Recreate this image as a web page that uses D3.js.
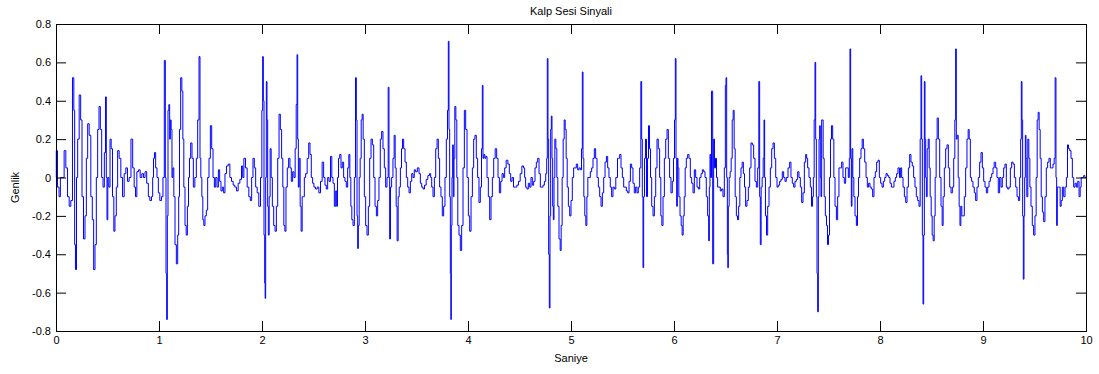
<!DOCTYPE html>
<html>
<head>
<meta charset="utf-8">
<script src="https://cdn.jsdelivr.net/npm/d3@7"></script>
<style>
  body { margin: 0; background: #fff; }
  svg { display: block; }
  text { font-family: Arial, "Liberation Sans", sans-serif; font-size: 11px; fill: #000; }
</style>
</head>
<body>
<div id="chart"></div>
<script>
/* Kalp sesi - [saniye, genlik] pairs */
var seg1 = [[0,0],[0.006,0.14],[0.023,-0.05],[0.036,-0.1],[0.049,0],[0.071,0],[0.087,0.14],[0.104,0.05],[0.120,-0.1],[0.136,-0.15],[0.152,-0.12],[0.168,0.52],[0.178,0.35],[0.184,-0.35],[0.194,-0.48],[0.204,0],[0.217,0.2],[0.233,0.43],[0.246,0.3],[0.259,-0.1],[0.275,-0.32],[0.288,-0.2],[0.301,0.1],[0.314,0.28],[0.330,0.22],[0.346,-0.1],[0.359,-0.22],[0.372,-0.48],[0.385,-0.35],[0.398,0],[0.411,0.25],[0.424,0.37],[0.437,0.25],[0.450,0],[0.463,-0.05],[0.476,0.13],[0.485,0.42],[0.492,0],[0.498,-0.22],[0.508,0],[0.518,-0.05],[0.531,0.2],[0.540,0.15],[0.557,-0.1],[0.566,-0.28],[0.579,-0.2],[0.592,-0.05],[0.605,0.14],[0.621,0.1],[0.638,0],[0.654,-0.1],[0.670,0.02],[0.686,0.05],[0.702,-0.02],[0.718,0],[0.738,0.2],[0.751,0.05],[0.767,-0.05],[0.777,-0.1],[0.793,0.03],[0.809,0.04],[0.825,0],[0.841,0.02],[0.858,0],[0.871,0.03],[0.890,-0.03]];
var seg2 = [[0.903,-0.1],[0.919,-0.12],[0.935,-0.1],[0.942,0],[0.951,0.1],[0.961,0.13],[0.974,0.05],[0.987,0],[1.000,-0.08],[1.016,-0.12],[1.032,-0.1],[1.045,0],[1.058,0.61],[1.065,0],[1.071,-0.5],[1.078,-0.74],[1.084,-0.2],[1.091,0.35],[1.100,0.38],[1.107,0.2],[1.113,0.3],[1.123,0.25],[1.129,0],[1.139,0.05],[1.149,-0.1],[1.162,-0.35],[1.175,-0.45],[1.188,-0.3],[1.194,-0.1],[1.204,0.25],[1.217,0.52],[1.227,0.45],[1.236,0.2],[1.246,-0.05],[1.259,-0.25],[1.269,-0.3],[1.282,-0.15],[1.291,0],[1.301,0.1],[1.314,0.18],[1.327,0.1],[1.340,-0.05],[1.356,0],[1.369,0.1],[1.382,0.3],[1.395,0.63],[1.401,0.1],[1.411,0],[1.421,-0.1],[1.430,-0.22],[1.440,-0.25],[1.453,-0.2],[1.466,-0.17],[1.479,0],[1.492,0.1],[1.505,0.27],[1.518,0.15],[1.531,0],[1.544,-0.05],[1.557,0],[1.570,-0.05],[1.583,0.04],[1.595,-0.02],[1.608,-0.07],[1.621,-0.05],[1.634,-0.08],[1.647,0.02],[1.663,0.06],[1.680,0.07],[1.696,0],[1.712,-0.02],[1.728,-0.04],[1.744,-0.05],[1.760,-0.07],[1.777,-0.03],[1.793,-0.01],[1.809,0.06]];
var seg3 = [[1.816,0],[1.832,0.1],[1.848,0.05],[1.864,-0.05],[1.880,-0.1],[1.893,-0.12],[1.906,0],[1.919,0.1],[1.932,0.05],[1.945,-0.05],[1.961,-0.08],[1.977,-0.15],[1.994,0],[2.003,0.35],[2.010,0.63],[2.016,0.4],[2.023,-0.3],[2.029,-0.55],[2.032,-0.63],[2.039,0],[2.045,0.5],[2.052,0.3],[2.058,-0.15],[2.065,-0.3],[2.074,-0.1],[2.084,0.15],[2.094,0],[2.107,-0.15],[2.120,-0.25],[2.133,-0.28],[2.146,-0.15],[2.159,0.1],[2.172,0.33],[2.184,0.25],[2.197,0.1],[2.207,-0.05],[2.217,-0.25],[2.227,-0.28],[2.239,-0.05],[2.252,0.05],[2.265,0.1],[2.278,0.05],[2.291,-0.02],[2.304,0.03],[2.317,0],[2.327,0.15],[2.337,0.38],[2.343,0.64],[2.350,0.2],[2.356,-0.05],[2.366,0.1],[2.375,-0.15],[2.385,-0.28],[2.395,-0.1],[2.405,-0.1],[2.417,0],[2.430,0.02],[2.447,0.1],[2.460,0.18],[2.472,0.12],[2.485,0],[2.498,-0.03],[2.511,-0.05],[2.528,-0.06],[2.544,-0.05],[2.560,-0.08],[2.576,-0.02],[2.592,0.08],[2.605,0],[2.618,-0.04],[2.631,-0.06],[2.644,0],[2.657,-0.02],[2.673,0.11],[2.683,0],[2.696,-0.03],[2.709,-0.15],[2.722,-0.07]];
var seg4 = [[2.728,-0.15],[2.738,0],[2.748,0.1],[2.761,0.12],[2.773,0.05],[2.786,0.08],[2.799,0],[2.812,-0.02],[2.825,-0.05],[2.838,0.05],[2.848,0.12],[2.858,0],[2.867,-0.15],[2.877,-0.22],[2.890,-0.25],[2.903,0],[2.913,0.52],[2.919,0.3],[2.926,-0.2],[2.932,-0.37],[2.939,-0.25],[2.948,0],[2.958,0.1],[2.968,0.3],[2.977,0.33],[2.987,0.2],[3.000,-0.1],[3.013,-0.25],[3.026,-0.3],[3.039,-0.15],[3.052,0.1],[3.065,0.2],[3.078,0.17],[3.091,0],[3.104,-0.15],[3.117,-0.2],[3.129,-0.12],[3.142,0],[3.155,0.2],[3.168,0.24],[3.181,0.15],[3.194,0.05],[3.207,-0.05],[3.220,0],[3.230,0.47],[3.236,0],[3.243,-0.32],[3.252,-0.05],[3.265,0],[3.278,0.1],[3.288,0.22],[3.298,0.05],[3.307,-0.15],[3.317,-0.33],[3.327,-0.1],[3.337,-0.05],[3.350,0.05],[3.359,0.15],[3.369,0.2],[3.382,0.15],[3.395,0.08],[3.408,0],[3.421,-0.05],[3.434,-0.08],[3.447,-0.02],[3.460,0.02],[3.472,0],[3.485,0.04],[3.498,0.03],[3.518,0.05],[3.531,0.02],[3.544,-0.03],[3.557,-0.05],[3.570,-0.06],[3.586,-0.04],[3.602,-0.01],[3.618,0.01],[3.634,0.02]];
var seg5 = [[3.641,0],[3.654,-0.05],[3.667,-0.1],[3.680,0],[3.693,0.15],[3.706,0.2],[3.718,0.1],[3.731,-0.05],[3.744,-0.1],[3.757,-0.2],[3.770,-0.15],[3.783,0],[3.796,0.2],[3.806,0.35],[3.812,0.71],[3.819,0.25],[3.825,-0.1],[3.832,-0.5],[3.835,-0.74],[3.841,-0.25],[3.848,0],[3.854,0.17],[3.861,-0.1],[3.867,0.1],[3.877,0.37],[3.887,0.3],[3.896,0],[3.906,-0.25],[3.919,-0.3],[3.932,-0.38],[3.945,-0.25],[3.958,0.05],[3.971,0.35],[3.984,0.25],[3.997,0],[4.010,-0.2],[4.023,-0.28],[4.036,-0.1],[4.049,0.05],[4.061,0.2],[4.074,0.22],[4.087,0.1],[4.100,0],[4.113,-0.13],[4.126,-0.05],[4.136,0.15],[4.142,0.48],[4.149,0.1],[4.159,0.12],[4.168,0.1],[4.178,0.11],[4.191,0],[4.204,-0.1],[4.217,-0.22],[4.230,-0.1],[4.243,0],[4.256,0.1],[4.272,0.15],[4.285,0.1],[4.298,0],[4.311,-0.08],[4.324,-0.02],[4.337,0.02],[4.350,0],[4.362,0.05],[4.379,0.09],[4.395,0.07],[4.408,0.02],[4.421,-0.02],[4.434,0],[4.450,-0.05],[4.466,-0.05],[4.482,-0.04],[4.498,-0.02],[4.515,0.02],[4.531,0.06],[4.547,0.05]];
var seg6 = [[4.553,0],[4.566,-0.05],[4.579,-0.06],[4.592,-0.03],[4.605,-0.05],[4.618,0],[4.631,-0.04],[4.644,-0.02],[4.657,0.05],[4.670,0.08],[4.683,0.1],[4.696,0.02],[4.709,-0.05],[4.722,-0.05],[4.735,-0.04],[4.748,-0.02],[4.761,0.02],[4.767,0.1],[4.773,0.62],[4.780,0.2],[4.786,-0.4],[4.793,-0.68],[4.799,-0.2],[4.806,0.25],[4.812,0.32],[4.819,0.1],[4.825,-0.15],[4.832,-0.22],[4.838,0],[4.848,0.2],[4.858,0.15],[4.867,0],[4.877,-0.15],[4.890,-0.32],[4.900,-0.38],[4.909,-0.25],[4.919,0],[4.929,0.2],[4.939,0.3],[4.948,0.25],[4.958,0.1],[4.968,-0.05],[4.981,-0.15],[4.994,-0.2],[5.006,-0.12],[5.019,0],[5.032,0.05],[5.045,0.05],[5.058,0.07],[5.071,0.04],[5.084,0.05],[5.097,0.04],[5.107,0.15],[5.113,0.55],[5.120,0.1],[5.129,-0.1],[5.139,-0.2],[5.149,-0.25],[5.159,-0.1],[5.168,0],[5.181,0],[5.194,0.03],[5.207,0.05],[5.220,0.1],[5.233,0.15],[5.246,0.1],[5.259,0],[5.272,-0.05],[5.285,-0.1],[5.298,-0.15],[5.311,-0.08],[5.324,0],[5.337,0.08],[5.350,0.11],[5.362,0.05],[5.375,0],[5.388,-0.05],[5.401,-0.1],[5.414,-0.05],[5.427,-0.06],[5.443,0],[5.460,0.1]];
var seg7 = [[5.466,0.1],[5.479,0.12],[5.492,0.05],[5.505,0],[5.518,-0.05],[5.531,-0.05],[5.544,-0.07],[5.557,-0.08],[5.570,-0.02],[5.583,0.07],[5.595,0.05],[5.608,-0.03],[5.621,-0.08],[5.634,-0.05],[5.647,-0.08],[5.660,-0.05],[5.673,0.05],[5.683,0.5],[5.689,0.2],[5.696,-0.1],[5.702,-0.47],[5.709,-0.1],[5.718,0.1],[5.728,0.2],[5.738,-0.1],[5.748,0.1],[5.757,0.27],[5.767,0.15],[5.777,0],[5.790,-0.15],[5.803,-0.2],[5.816,-0.1],[5.829,0.05],[5.841,0.2],[5.854,0.15],[5.867,0],[5.877,-0.2],[5.887,-0.25],[5.900,-0.1],[5.913,0.1],[5.926,0.2],[5.939,0.25],[5.951,0.1],[5.964,0],[5.977,-0.08],[5.990,-0.02],[6.000,0.1],[6.010,0.3],[6.016,0.62],[6.023,0.1],[6.029,-0.15],[6.036,0.1],[6.042,0.05],[6.052,-0.1],[6.065,-0.2],[6.074,-0.25],[6.084,-0.3],[6.094,-0.2],[6.104,-0.1],[6.113,0.05],[6.126,0.1],[6.139,0.12],[6.152,0.1],[6.165,0],[6.178,-0.03],[6.191,-0.08],[6.204,0.04],[6.217,0],[6.230,-0.05],[6.243,-0.06],[6.256,0],[6.269,0.02],[6.282,0.04],[6.295,0.03],[6.307,0],[6.320,-0.1],[6.333,-0.2],[6.340,-0.33],[6.346,-0.05],[6.353,0.12],[6.359,0],[6.369,0.45]];
var seg8 = [[6.382,-0.45],[6.388,0.2],[6.398,0.05],[6.408,0.1],[6.417,0],[6.430,-0.05],[6.443,-0.05],[6.456,-0.07],[6.469,-0.06],[6.482,-0.1],[6.495,0.05],[6.502,0.48],[6.508,0.52],[6.515,0],[6.521,-0.4],[6.524,-0.47],[6.531,-0.15],[6.540,0],[6.550,0.03],[6.560,0.1],[6.570,0.3],[6.579,0.35],[6.589,0.15],[6.599,-0.1],[6.612,-0.2],[6.621,-0.22],[6.634,-0.15],[6.644,0],[6.657,0.05],[6.667,0.08],[6.680,0.02],[6.689,-0.05],[6.702,-0.15],[6.715,-0.12],[6.728,-0.05],[6.741,0.05],[6.754,0.18],[6.767,0.17],[6.780,0.1],[6.793,-0.02],[6.806,-0.05],[6.819,0.05],[6.828,0.5],[6.835,-0.1],[6.841,-0.35],[6.851,-0.05],[6.861,0],[6.871,0.1],[6.877,0.3],[6.883,0],[6.893,-0.2],[6.903,-0.3],[6.916,-0.15],[6.929,-0.05],[6.942,0.05],[6.955,0.15],[6.968,0.18],[6.981,0.1],[6.994,0],[7.006,-0.05],[7.019,-0.04],[7.032,-0.02],[7.045,-0.01],[7.058,0.03],[7.071,0],[7.084,-0.02],[7.097,0],[7.117,0.05],[7.129,0.08],[7.142,0],[7.155,-0.03],[7.168,-0.05],[7.181,-0.02],[7.194,-0.01],[7.207,0.03],[7.220,0],[7.233,-0.05],[7.246,-0.13],[7.259,-0.08],[7.272,0.08],[7.285,0.12]];
var seg9 = [[7.291,0.1],[7.304,0.05],[7.317,0],[7.330,-0.05],[7.340,-0.15],[7.350,-0.1],[7.356,0],[7.366,0.3],[7.372,0.6],[7.379,0.2],[7.385,-0.1],[7.392,-0.5],[7.398,-0.7],[7.405,-0.1],[7.411,0.2],[7.417,0.27],[7.424,0],[7.430,-0.1],[7.437,0.3],[7.443,0.3],[7.453,0.1],[7.463,-0.1],[7.476,-0.2],[7.485,-0.25],[7.495,-0.35],[7.505,-0.3],[7.515,0],[7.524,0.2],[7.534,0.27],[7.547,0.2],[7.557,0],[7.570,-0.15],[7.583,-0.22],[7.595,-0.1],[7.608,0.05],[7.621,0.05],[7.634,0.08],[7.647,0],[7.660,-0.03],[7.673,0.05],[7.686,0.05],[7.699,0],[7.705,0.1],[7.712,0.67],[7.718,0.1],[7.725,-0.15],[7.731,0.15],[7.741,0],[7.751,-0.1],[7.764,-0.2],[7.777,-0.25],[7.786,-0.1],[7.796,0],[7.809,0.1],[7.822,0.15],[7.832,0.2],[7.845,0.15],[7.858,0.08],[7.871,0],[7.883,-0.05],[7.896,-0.03],[7.909,-0.05],[7.922,-0.06],[7.935,-0.1],[7.948,0],[7.961,0.03],[7.974,0.08],[7.987,0.09],[8.000,0],[8.013,-0.03],[8.026,-0.05],[8.039,-0.02],[8.052,0],[8.065,0.02],[8.078,0.01],[8.091,0],[8.104,-0.03],[8.117,-0.05],[8.129,-0.05],[8.142,-0.02],[8.155,0],[8.168,0.02],[8.181,0.05],[8.197,0]];
var seg10 = [[8.204,0.05],[8.217,0],[8.230,-0.05],[8.243,-0.1],[8.256,-0.13],[8.269,-0.05],[8.282,0.05],[8.294,0.12],[8.307,0.08],[8.320,0.06],[8.333,0],[8.346,-0.05],[8.359,-0.1],[8.372,-0.12],[8.385,-0.15],[8.395,0.2],[8.401,0.53],[8.408,0.2],[8.414,-0.3],[8.421,-0.66],[8.427,-0.3],[8.434,0.5],[8.440,0.2],[8.447,0],[8.453,-0.1],[8.463,0.15],[8.473,0.2],[8.482,0.05],[8.492,-0.1],[8.502,-0.2],[8.511,-0.3],[8.521,-0.33],[8.531,-0.2],[8.540,0],[8.550,0.2],[8.560,0.31],[8.573,0.2],[8.586,0],[8.599,-0.15],[8.608,-0.25],[8.618,-0.1],[8.631,0.05],[8.644,0.15],[8.657,0.17],[8.670,0.05],[8.683,-0.05],[8.696,-0.08],[8.709,-0.05],[8.722,0.1],[8.731,0.3],[8.738,0.67],[8.744,0.2],[8.754,0.22],[8.764,0],[8.773,-0.15],[8.780,-0.25],[8.790,-0.15],[8.799,-0.2],[8.812,-0.2],[8.825,-0.1],[8.838,0.05],[8.851,0.2],[8.861,0.25],[8.871,0.2],[8.883,0],[8.896,-0.02],[8.909,-0.05],[8.922,-0.08],[8.935,-0.12],[8.948,-0.05],[8.961,0],[8.974,0.08],[8.987,0.13],[9.000,0.05],[9.013,-0.02],[9.026,-0.05],[9.039,-0.08],[9.052,-0.05],[9.065,-0.02],[9.078,0],[9.091,0.02],[9.104,0.05],[9.113,0.08]];
var seg11 = [[9.117,0.08],[9.129,0.05],[9.142,0],[9.155,-0.08],[9.168,0],[9.181,-0.05],[9.194,0],[9.207,0.05],[9.220,0.07],[9.233,-0.05],[9.246,-0.06],[9.259,-0.05],[9.272,0.05],[9.285,0.08],[9.298,0.07],[9.311,0],[9.324,-0.05],[9.337,-0.1],[9.350,-0.12],[9.362,0],[9.369,0.2],[9.375,0.5],[9.382,0.3],[9.388,-0.2],[9.395,-0.53],[9.401,-0.2],[9.408,0],[9.414,0.22],[9.421,0.1],[9.430,-0.1],[9.440,0.2],[9.450,0.1],[9.460,-0.05],[9.472,-0.15],[9.485,-0.25],[9.498,-0.3],[9.511,-0.2],[9.521,0],[9.531,0.3],[9.540,0.34],[9.550,0.25],[9.560,0.1],[9.570,-0.1],[9.583,-0.18],[9.595,-0.23],[9.608,-0.1],[9.621,0.05],[9.634,0.08],[9.647,0.1],[9.660,0.05],[9.673,0.05],[9.686,0.07],[9.696,0.1],[9.705,0.52],[9.712,0],[9.718,-0.25],[9.725,-0.05],[9.735,-0.05],[9.744,-0.05],[9.754,-0.15],[9.764,-0.12],[9.777,-0.05],[9.790,-0.1],[9.803,-0.05],[9.816,0],[9.825,0.17],[9.835,0.15],[9.848,0.14],[9.861,0.1],[9.874,0],[9.887,-0.05],[9.900,-0.03],[9.913,-0.05],[9.926,-0.02],[9.939,-0.1],[9.948,-0.05],[9.958,0],[9.971,0],[9.984,0.01],[9.994,0],[10,0]];

var xTicks = [0,1,2,3,4,5,6,7,8,9,10];
var yTicks = [-0.8,-0.6,-0.4,-0.2,0,0.2,0.4,0.6,0.8];

var baslik = "Kalp Sesi Sinyali",
    xEtiket = "Saniye",
    yEtiket = "Genlik";

var sinyal = [].concat(seg1, seg2, seg3, seg4, seg5, seg6, seg7, seg8, seg9, seg10, seg11);

/* svg */
var width = 1099, height = 374;
var margin = {left: 56, right: 13, top: 24, bottom: 43};

var svg = d3.select("#chart").append("svg")
    .attr("width", width)
    .attr("height", height);

svg.append("rect").attr("width", width).attr("height", height).attr("fill", "#fff");

var x = d3.scaleLinear().domain([0, 10]).range([margin.left, width - margin.right]);
var y = d3.scaleLinear().domain([-0.8, 0.8]).range([height - margin.bottom, margin.top]);

var fmt = function (d) { return d === 0 ? "0" : String(+d.toFixed(1)); };

// signal - stepped, the recording looks quantised
svg.append("path")
    .datum(sinyal)
    .attr("fill", "none")
    .attr("stroke", "#0000ff")
    .attr("stroke-width", 1)
    .attr("d", d3.line().curve(d3.curveStep)
        .x(function (d) { return x(d[0]); })
        .y(function (d) { return y(d[1]); }));

// axes, ticks pointing inward like matlab
var xb = svg.append("g").attr("transform", "translate(0," + y(-0.8) + ")")
    .call(d3.axisBottom(x).tickValues(xTicks).tickFormat(fmt).tickSize(-10).tickPadding(5));
var xt = svg.append("g").attr("transform", "translate(0," + y(0.8) + ")")
    .call(d3.axisTop(x).tickValues(xTicks).tickFormat("").tickSize(-10));
var yl = svg.append("g").attr("transform", "translate(" + x(0) + ",0)")
    .call(d3.axisLeft(y).tickValues(yTicks).tickFormat(fmt).tickSize(-10).tickPadding(5));
var yr = svg.append("g").attr("transform", "translate(" + x(10) + ",0)")
    .call(d3.axisRight(y).tickValues(yTicks).tickFormat("").tickSize(-10));

[xb, xt, yl, yr].forEach(function (g) {
    g.select(".domain").remove();
    g.selectAll(".tick line").attr("stroke", "#000");
    g.selectAll("text").attr("font-size", 11).attr("font-family", "Arial, 'Liberation Sans', sans-serif").attr("fill", "#000");
});

// frame
svg.append("rect")
    .attr("x", x(0) + 0.5).attr("y", y(0.8) + 0.5)
    .attr("width", x(10) - x(0)).attr("height", y(-0.8) - y(0.8))
    .attr("fill", "none").attr("stroke", "#000").attr("stroke-width", 1);

// labels
svg.append("text").attr("x", (x(0) + x(10)) / 2).attr("y", 15)
    .attr("text-anchor", "middle").text(baslik);
svg.append("text").attr("x", (x(0) + x(10)) / 2).attr("y", 362)
    .attr("text-anchor", "middle").text(xEtiket);
svg.append("text").attr("transform", "translate(19," + (y(0) + 10) + ") rotate(-90)")
    .attr("text-anchor", "middle").text(yEtiket);
</script>
</body>
</html>
